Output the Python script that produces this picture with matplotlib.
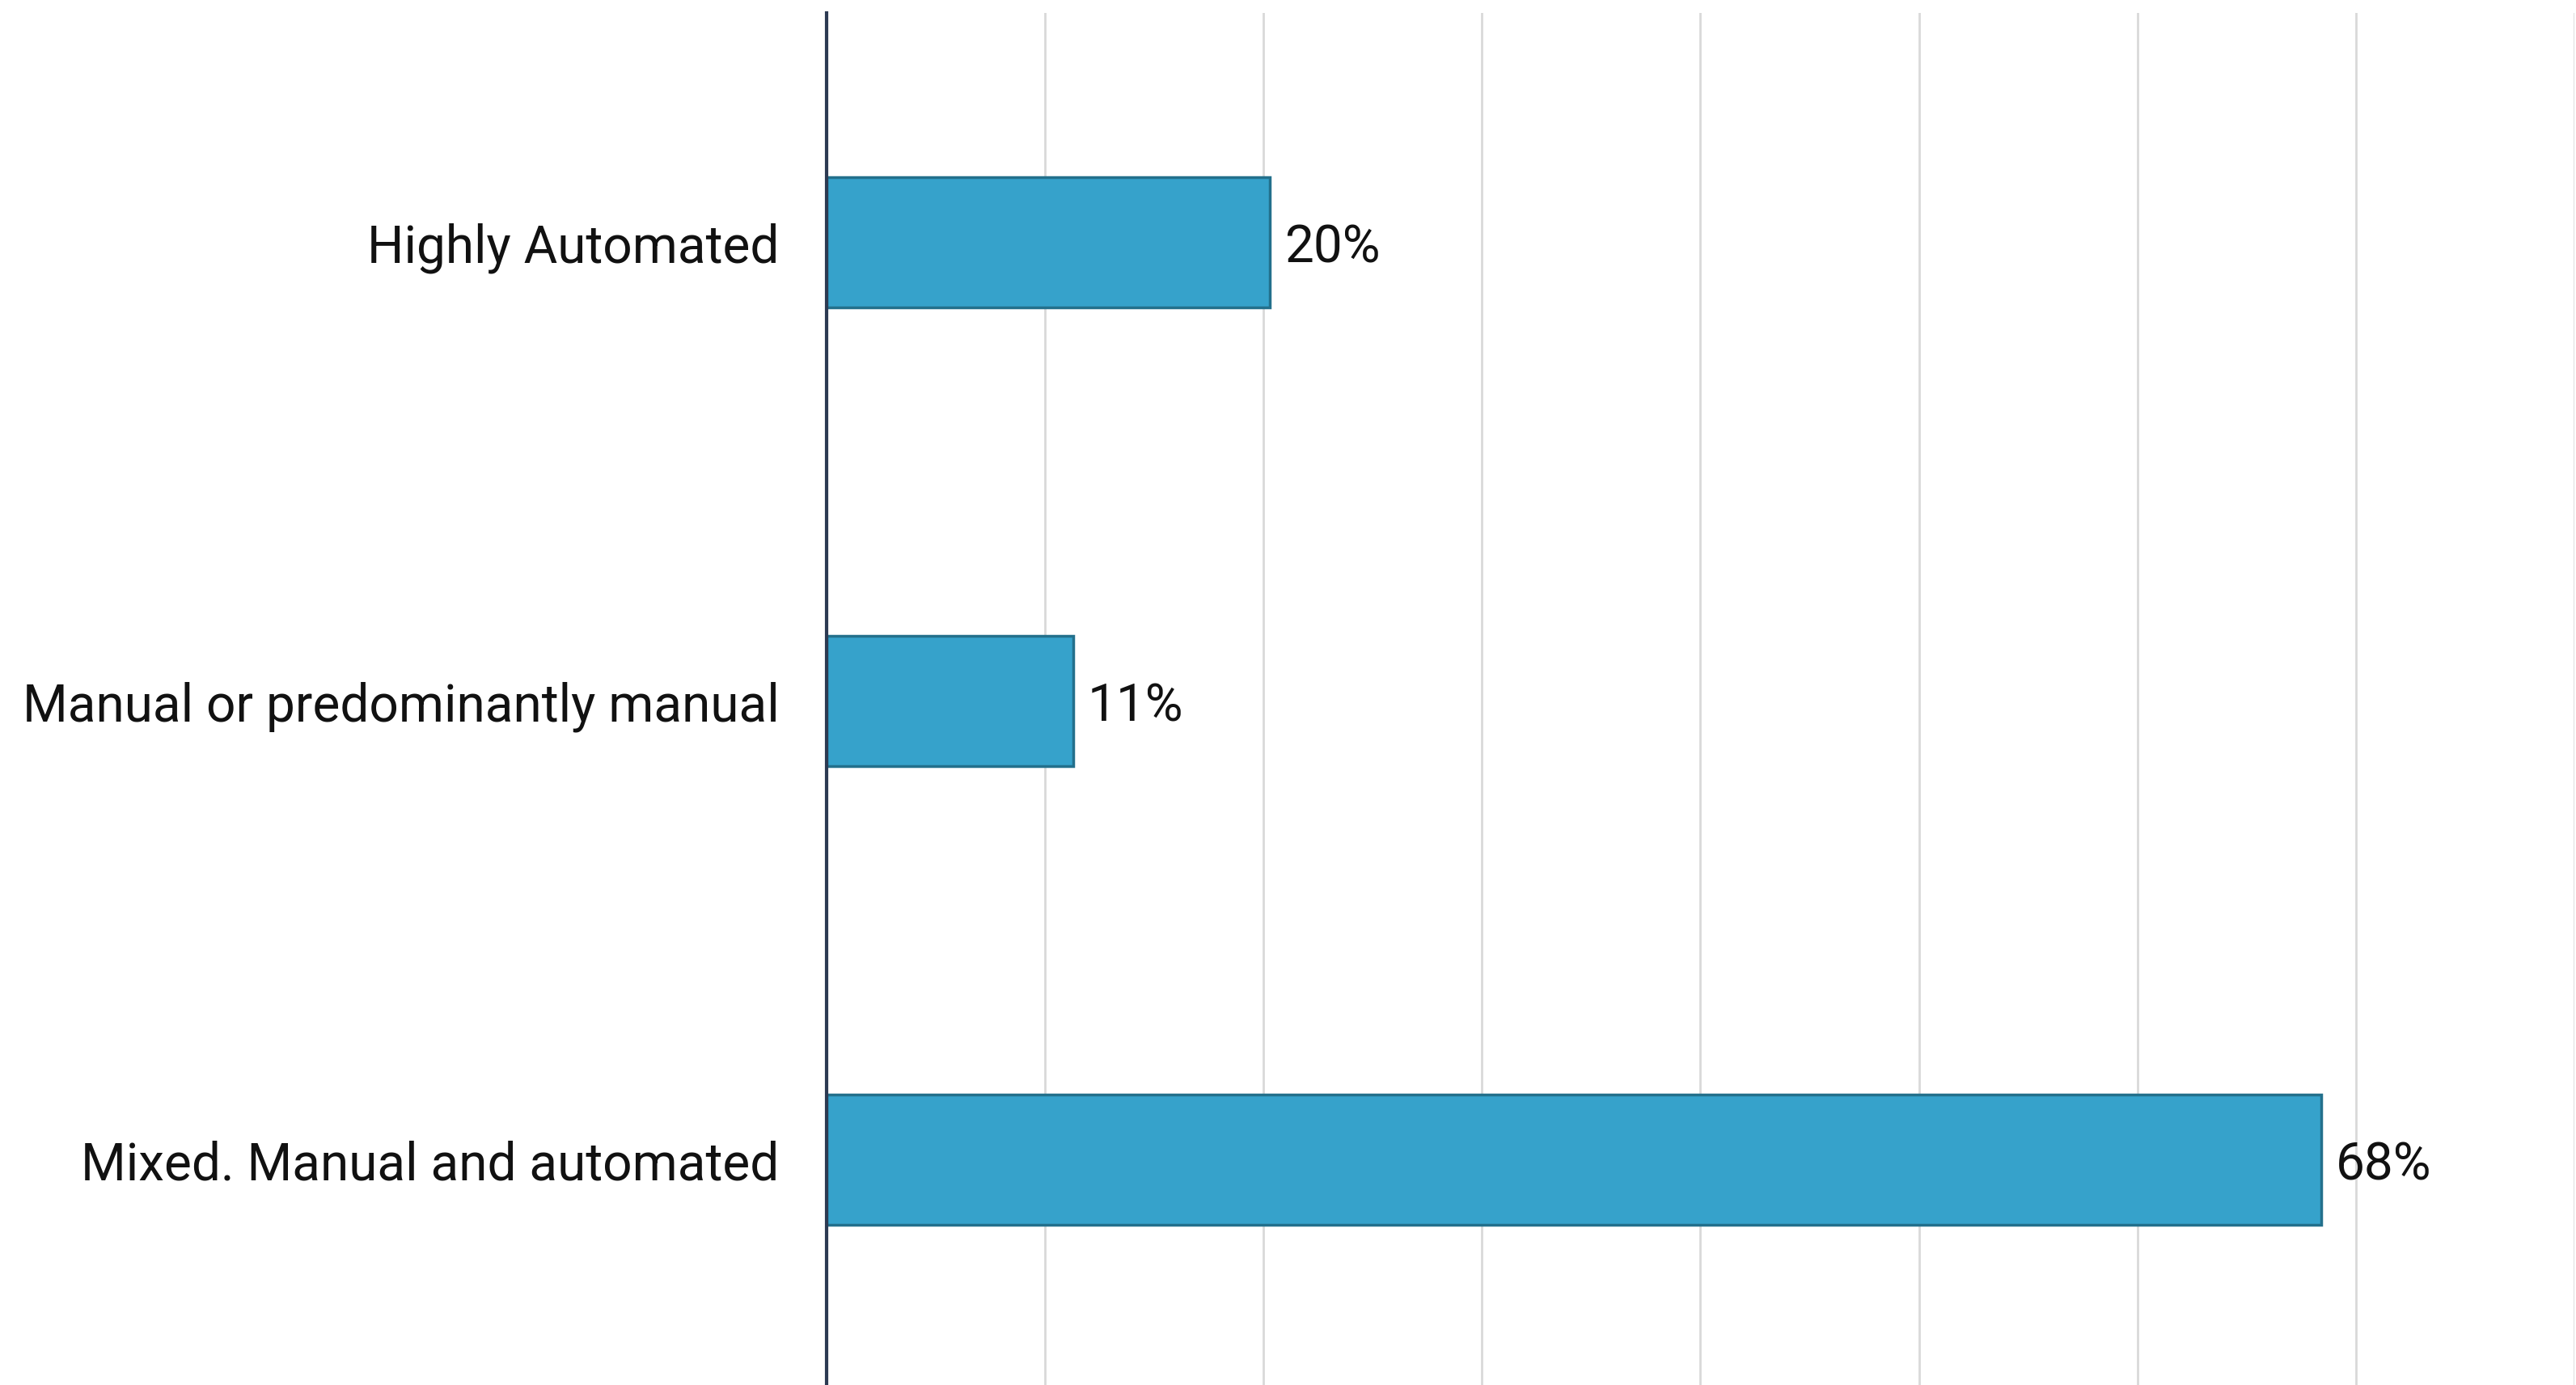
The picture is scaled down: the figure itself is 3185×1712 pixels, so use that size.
import numpy as np
import matplotlib.pyplot as plt

plt.rcParams['font.family'] = ['Roboto', 'DejaVu Sans']

categories = ['Highly Automated', 'Manual or predominantly manual', 'Mixed. Manual and automated']
values = [20.3, 11.3, 68.4]
value_labels = ['20%', '11%', '68%']

BAR_COLOR = '#36a2cb'
EDGE_COLOR = '#23708c'
AXIS_COLOR = '#2c3a52'
GRID_COLOR = '#d9d9d9'
TEXT_COLOR = '#111111'


def main():
    fig = plt.figure(figsize=(31.85, 17.12), dpi=100)
    ax = fig.add_axes([0.3208, -0.003, 0.6786, 0.9936])

    y = np.arange(len(categories))
    ax.barh(y, values, height=0.283, color=BAR_COLOR, edgecolor=EDGE_COLOR,
            linewidth=2.5, zorder=3)

    ax.set_xlim(0, 80)
    ax.set_ylim(len(categories) - 0.5, -0.5)
    ax.set_xticks(np.arange(0, 81, 10))
    ax.set_xticklabels([])
    ax.tick_params(axis='x', length=0)
    ax.grid(axis='x', color=GRID_COLOR, linewidth=2.0, zorder=0)
    ax.set_axisbelow(True)

    ax.set_yticks(y)
    ax.set_yticklabels(categories, fontsize=46, color=TEXT_COLOR)
    ax.tick_params(axis='y', length=0, pad=42)

    for s in ['top', 'right', 'bottom']:
        ax.spines[s].set_visible(False)
    ax.spines['left'].set_color(AXIS_COLOR)
    ax.spines['left'].set_linewidth(3)
    ax.spines['left'].set_zorder(4)

    for yi, v, lab in zip(y, values, value_labels):
        ax.annotate(lab, (v, yi), xytext=(13, 0), textcoords='offset points',
                    va='center_baseline', ha='left', fontsize=46, color=TEXT_COLOR)

    fig.savefig('out.png', dpi=100, facecolor='white')


if __name__ == '__main__':
    main()
